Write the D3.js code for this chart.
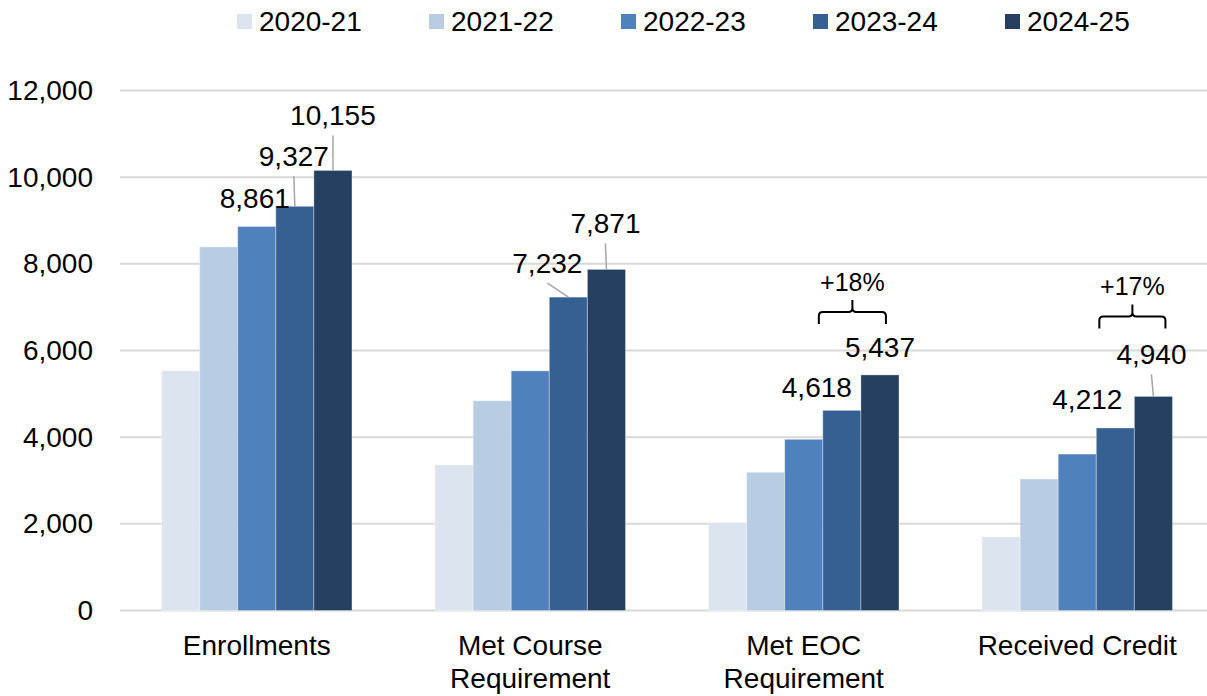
<html>
<head>
<style>
  html, body { margin: 0; padding: 0; background: #fff; }
  svg text { font-family: "Liberation Sans", Arial, sans-serif; fill: #000; }
</style>
</head>
<body>
<svg id="viz"></svg>
<script src="https://cdn.jsdelivr.net/npm/d3@7/dist/d3.min.js"></script>
<script>
// chart values
var categories = ["Enrollments", "Met Course Requirement", "Met EOC Requirement", "Received Credit"];
var categoryLines = [["Enrollments"], ["Met Course", "Requirement"], ["Met EOC", "Requirement"], ["Received Credit"]];
var years = ["2020-21", "2021-22", "2022-23", "2023-24", "2024-25"];
var y2020 = [5530, 3360, 2030, 1700];
var y2021 = [8390, 4840, 3190, 3035];
var y2022 = [8861, 5530, 3950, 3610];
var y2023 = [9327, 7232, 4618, 4212];
var y2024 = [10155, 7871, 5437, 4940];
var yTicks = [0, 2000, 4000, 6000, 8000, 10000, 12000];
var growthLabels = ["+18%", "+17%"];   // Met EOC, Received Credit

var series = [y2020, y2021, y2022, y2023, y2024];
var colors = ["#dce4f0", "#b8cce4", "#4f81bd", "#376092", "#254061"];

var width = 1207, height = 696;
var svg = d3.select("#viz").attr("width", width).attr("height", height);

var x0 = d3.scaleBand().domain(categories).range([120, 1214]).padding(0);
var x1 = d3.scaleBand().domain(years).range([0, x0.bandwidth()])
    .paddingInner(0).paddingOuter(1.09);
var y = d3.scaleLinear().domain([0, 12000]).range([610.5, 90.5]);

// gridlines
svg.append("g").selectAll("line")
    .data(yTicks)
    .enter().append("line")
    .attr("x1", 120).attr("x2", width)
    .attr("y1", function(d) { return y(d); })
    .attr("y2", function(d) { return y(d); })
    .attr("stroke", "#d9d9d9")
    .attr("stroke-width", 2);

// y axis labels
var yAxis = d3.axisLeft(y).tickValues(yTicks).tickSize(0).tickPadding(0)
    .tickFormat(d3.format(","));
svg.append("g")
    .attr("transform", "translate(93,0)")
    .call(yAxis)
    .call(function(g) { g.select(".domain").remove(); })
    .selectAll("text")
    .style("font-family", "'Liberation Sans', Arial, sans-serif")
    .style("font-size", "28px")
    .attr("fill", "#000");

// bars
var rows = [];
categories.forEach(function(c, i) {
  years.forEach(function(yr, j) {
    rows.push({cat: c, ci: i, year: yr, si: j, value: series[j][i]});
  });
});

svg.append("g").selectAll("rect")
    .data(rows)
    .enter().append("rect")
    .attr("x", function(d) { return x0(d.cat) + x1(d.year); })
    .attr("width", x1.bandwidth())
    .attr("y", function(d) { return y(d.value); })
    .attr("height", function(d) { return y(0) - y(d.value); })
    .attr("fill", function(d) { return colors[d.si]; })
    .attr("stroke", "rgba(255,255,255,0.35)")
    .attr("stroke-width", 1);

// x category labels
var xl = svg.append("g").selectAll("text")
    .data(categories)
    .enter().append("text")
    .attr("text-anchor", "middle")
    .attr("font-size", "28px")
    .attr("y", 655);
xl.each(function(d, i) {
  var t = d3.select(this);
  categoryLines[i].forEach(function(line, k) {
    t.append("tspan")
      .attr("x", x0(d) + x0.bandwidth() / 2)
      .attr("dy", k === 0 ? 0 : 33)
      .text(line);
  });
});

// data labels: which bar, offset from bar top centre, leader line or not
var labelSpots = [
  {ci: 0, si: 2, dx: -2,  dy: -19, leader: false},
  {ci: 0, si: 3, dx: -1,  dy: -40, leader: true},
  {ci: 0, si: 4, dx: 0,   dy: -45, leader: true},
  {ci: 1, si: 3, dx: -21, dy: -24, leader: true},
  {ci: 1, si: 4, dx: -1,  dy: -36, leader: true},
  {ci: 2, si: 3, dx: -25, dy: -13, leader: false},
  {ci: 2, si: 4, dx: 0,   dy: -18, leader: false},
  {ci: 3, si: 3, dx: -28, dy: -19, leader: false},
  {ci: 3, si: 4, dx: -2,  dy: -32, leader: true}
];

function barCx(ci, si) { return x0(categories[ci]) + x1(years[si]) + x1.bandwidth() / 2; }
function barTop(ci, si) { return y(series[si][ci]); }

var lab = svg.append("g");
lab.selectAll("line")
    .data(labelSpots.filter(function(d) { return d.leader; }))
    .enter().append("line")
    .attr("x1", function(d) { return barCx(d.ci, d.si) + d.dx; })
    .attr("y1", function(d) { return barTop(d.ci, d.si) + d.dy + 10; })
    .attr("x2", function(d) { return barCx(d.ci, d.si); })
    .attr("y2", function(d) { return barTop(d.ci, d.si); })
    .attr("stroke", "#a6a6a6")
    .attr("stroke-width", 1.5);

lab.selectAll("text")
    .data(labelSpots)
    .enter().append("text")
    .attr("text-anchor", "middle")
    .attr("font-size", "28px")
    .attr("x", function(d) { return barCx(d.ci, d.si) + d.dx; })
    .attr("y", function(d) { return barTop(d.ci, d.si) + d.dy; })
    .text(function(d) { return d3.format(",")(series[d.si][d.ci]); });

// growth brackets over the last two bars
var brackets = [
  {ci: 2, rise: 63, left: -23, right: 6,  label: growthLabels[0]},
  {ci: 3, rise: 80, left: -16, right: 12, label: growthLabels[1]}
];
var br = svg.append("g");
brackets.forEach(function(b) {
  var xa = barCx(b.ci, 3) + b.left;
  var xb = barCx(b.ci, 4) + b.right;
  var xm = (xa + xb) / 2;
  var yy = barTop(b.ci, 4) - b.rise;
  var p = "M" + xa + "," + (yy + 12) + " V" + (yy + 4) +
          " Q" + xa + "," + yy + " " + (xa + 4) + "," + yy +
          " H" + (xm - 4) +
          " Q" + xm + "," + yy + " " + xm + "," + (yy - 4) +
          " V" + (yy - 12) +
          " M" + xm + "," + (yy - 4) +
          " Q" + xm + "," + yy + " " + (xm + 4) + "," + yy +
          " H" + (xb - 4) +
          " Q" + xb + "," + yy + " " + xb + "," + (yy + 4) +
          " V" + (yy + 12);
  br.append("path").attr("d", p)
    .attr("fill", "none").attr("stroke", "#000").attr("stroke-width", 2);
  br.append("text")
    .attr("text-anchor", "middle")
    .attr("font-size", "25px")
    .attr("x", xm)
    .attr("y", yy - 21)
    .text(b.label);
});

// legend
var legend = svg.append("g").selectAll("g")
    .data(years)
    .enter().append("g")
    .attr("transform", function(d, i) { return "translate(" + (237 + i * 192) + ",0)"; });
legend.append("rect")
    .attr("x", 0).attr("y", 14)
    .attr("width", 15).attr("height", 15)
    .attr("fill", function(d, i) { return colors[i]; });
legend.append("text")
    .attr("x", 22).attr("y", 31)
    .attr("font-size", "28px")
    .text(function(d) { return d; });
</script>
</body>
</html>
